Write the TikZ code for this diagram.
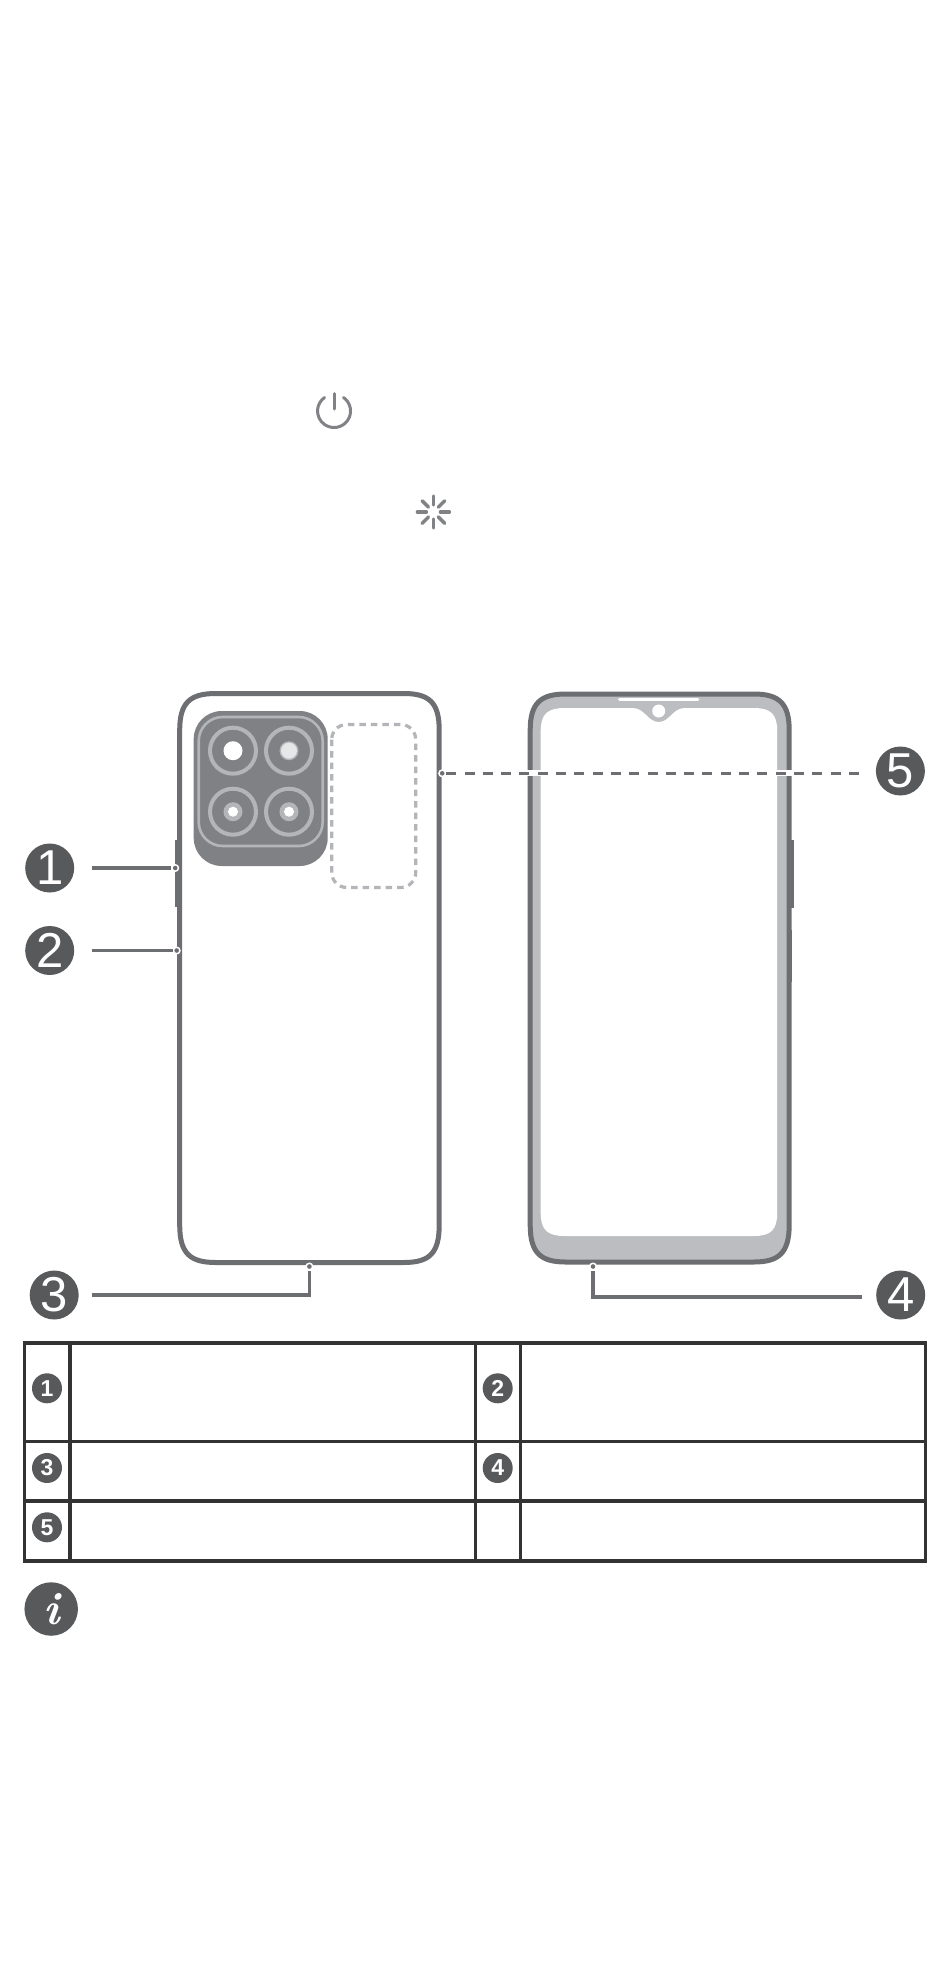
\documentclass[tikz,border=0pt]{standalone}
\usepackage{fontspec}
\usetikzlibrary{positioning}
\newfontfamily\badgefont{Liberation Sans}
\definecolor{phoneline}{HTML}{6D6E71}
\definecolor{bezel}{HTML}{BCBDC0}
\definecolor{camblock}{HTML}{808184}
\definecolor{camring}{HTML}{B4B5B8}
\definecolor{flash}{HTML}{E6E7E8}
\definecolor{badgefill}{HTML}{58595B}
\definecolor{iconline}{HTML}{808285}
\definecolor{gridline}{HTML}{333333}
\tikzset{
  bigbadge/.style={circle, fill=badgefill, text=white, minimum size=49pt, inner sep=0pt, font=\badgefont\fontsize{49}{49}\selectfont},
  smallbadge/.style={circle, fill=badgefill, text=white, minimum size=30pt, inner sep=0pt, font=\badgefont\bfseries\fontsize{23}{23}\selectfont},
  tipdot/.style={circle, fill=phoneline, draw=white, line width=1.5pt, minimum size=6.5pt, inner sep=0pt},
  leader/.style={draw=phoneline, line width=3.2pt},
  leaderdash/.style={draw=phoneline, line width=3.2pt, dash pattern=on 10pt off 8.3pt},
  lensring/.style={draw=camring, line width=4pt},
  tableline/.style={draw=gridline, line width=3.2pt},
  sidekey/.style={fill=phoneline},
  spinray/.style={draw=iconline, line width=3.4pt, line cap=round}
}
\begin{document}
\begin{tikzpicture}[x=1pt,y=-1pt]
\useasboundingbox (0.3,0) rectangle (950.3,1970);

\draw [iconline, line width=3pt, line cap=round] (334.3,393.5)--(334.3,409);
\draw [iconline, line width=3pt, line cap=round] (343.8,397.5) arc [start angle=55, end angle=-235, radius=16.5pt];

\coordinate (spin) at (433.7,512);
\draw [spinray] (spin) ++(0,-16)--++(0,9);
\draw [spinray] (spin) ++(0,16)--++(0,-9);
\draw [spinray] (spin) ++(-16,0)--++(9,0);
\draw [spinray] (spin) ++(16,0)--++(-9,0);
\draw [spinray] (spin) ++(-11.3,-11.3)--++(6.4,6.4);
\draw [spinray] (spin) ++(11.3,-11.3)--++(-6.4,6.4);
\draw [spinray] (spin) ++(-11.3,11.3)--++(6.4,-6.4);
\draw [spinray] (spin) ++(11.3,11.3)--++(-6.4,-6.4);

\fill [sidekey] (175.5,840) rectangle (180,907);
\fill [sidekey] (177,930) rectangle (180,982);
\draw [phoneline, line width=5pt, fill=white] (180,730) .. controls (180,703) and (190,693.5) .. (216,693.5) -- (404,693.5) .. controls (430,693.5) and (439.5,703) .. (439.5,730) -- (439.5,1225) .. controls (439.5,1253) and (430,1262.5) .. (404,1262.5) -- (216,1262.5) .. controls (190,1262.5) and (180,1253) .. (180,1225) -- cycle;

\fill [camblock, rounded corners=28pt] (194,711) rectangle (328,866);
\draw [camring, line width=2.6pt, rounded corners=24pt] (199,717) rectangle (323,846);
\draw [lensring] (233.3,750.7) circle (23);
\draw [lensring] (289.3,750.7) circle (23);
\draw [lensring] (233.3,811.7) circle (23);
\draw [lensring] (289.3,811.7) circle (23);
\fill [white] (233.3,750.7) circle (9.5);
\fill [camring] (289.3,750.7) circle (9.5);
\fill [flash] (289.3,750.7) circle (8);
\fill [camring] (233.3,811.7) circle (9.5);
\fill [camring] (289.3,811.7) circle (9.5);
\fill [white] (233.3,811.7) circle (5);
\fill [white] (289.3,811.7) circle (5);
\draw [camring, line width=3.2pt, dash pattern=on 6.5pt off 5pt, rounded corners=15pt] (332,724.5) rectangle (416,887.5);

\fill [sidekey] (789,840) rectangle (794,908);
\fill [sidekey] (789,930) rectangle (792.5,982);
\draw [phoneline, line width=5pt, fill=bezel] (530.5,730) .. controls (530.5,703) and (541,694) .. (566,694) -- (754,694) .. controls (779,694) and (789.5,703) .. (789.5,730) -- (789.5,1225) .. controls (789.5,1253) and (779,1262) .. (754,1262) -- (566,1262) .. controls (541,1262) and (530.5,1253) .. (530.5,1225) -- cycle;
\fill [white] (541,731) .. controls (541,714) and (548,708) .. (565,708) -- (633,708) .. controls (645,708) and (648,722) .. (659,722) .. controls (670,722) and (673,708) .. (685,708) -- (754,708) .. controls (771,708) and (777.5,714) .. (777.5,731) -- (777.5,1213) .. controls (777.5,1230) and (771,1236) .. (754,1236) -- (565,1236) .. controls (548,1236) and (541,1230) .. (541,1213) -- cycle;
\fill [white] (659,711) circle (6.5);
\draw [white, line width=3.6pt, line cap=round] (620,699.5)--(698,699.5);

\node (bigone) [bigbadge] at (50,868) {1};
\node (bigtwo) [bigbadge, below of=bigone, node distance=82.5pt] {2};
\node (bigthree) [bigbadge] at (54.5,1295) {3};
\node (bigfour) [bigbadge] at (901,1295) {4};
\node (bigfive) [bigbadge] at (900.7,771) {5};

\node (dota) [tipdot] at (175.5,868) {};
\node (dotb) [tipdot] at (177,950.5) {};
\node (dotc) [tipdot] at (309.7,1266.5) {};
\node (dotd) [tipdot] at (593.3,1266.5) {};
\node (dote) [tipdot] at (442.5,773.3) {};

\draw [leader, shorten <=17.5pt] (bigone)--(dota);
\draw [leader, shorten <=17.5pt] (bigtwo)--(dotb);
\draw [leader, shorten <=13pt] (bigthree) -| (dotc);
\draw [leader, shorten >=14pt] (dotd) |- ([yshift=-2pt]bigfour.west);
\draw [white, line width=6pt, shorten >=13.5pt] (dote) -- ([yshift=-2.3pt]bigfive.west);
\draw [leaderdash, shorten >=13.5pt] (dote) -- ([yshift=-2.3pt]bigfive.west);

\draw [tableline] (25,1343) rectangle (925.5,1561);
\draw [tableline] (25,1441.7)--(925.5,1441.7);
\draw [tableline] (25,1501)--(925.5,1501);
\draw [tableline] (70.3,1343)--(70.3,1561);
\draw [tableline] (475.8,1343)--(475.8,1561);
\draw [tableline] (520.6,1343)--(520.6,1561);

\node (smallone) [smallbadge] at (47.3,1388.3) {1};
\node (smalltwo) [smallbadge, right of=smallone, node distance=450.7pt] {2};
\node (smallthree) [smallbadge, below of=smallone, node distance=79.7pt] {3};
\node (smallfour) [smallbadge, right of=smallthree, node distance=450.7pt] {4};
\node (smallfive) [smallbadge, below of=smallthree, node distance=59.3pt] {5};
\node (infomark) [circle, fill=badgefill, text=white, minimum size=53.5pt, inner sep=0pt, font=\bfseries\itshape\fontsize{46}{46}\selectfont] at (51.5,1609) {i};
\end{tikzpicture}
\end{document}
